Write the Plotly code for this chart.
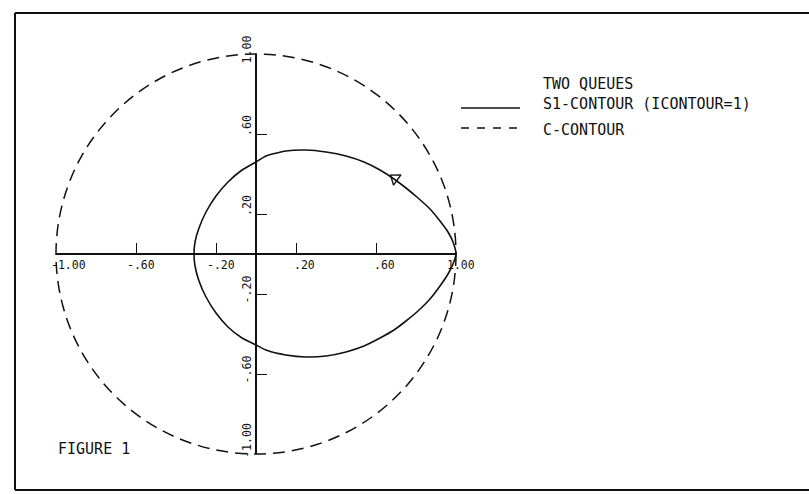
import plotly.graph_objects as go

# ---- data -------------------------------------------------------------
# S1-contour, traced counter-clockwise starting from the point (1, 0)
s1_x = [1.00, 0.985, 0.96, 0.92, 0.87, 0.81, 0.75, 0.69, 0.62, 0.54, 0.45, 0.35,
        0.25, 0.15, 0.05, 0.00, -0.07, -0.14, -0.20, -0.25, -0.285, -0.305, -0.31,
        -0.305, -0.285, -0.25, -0.20, -0.14, -0.07, 0.00, 0.05, 0.15, 0.25, 0.35,
        0.45, 0.54, 0.62, 0.69, 0.75, 0.81, 0.87, 0.92, 0.96, 0.985, 1.00]
s1_y = [0.00, 0.06, 0.11, 0.165, 0.225, 0.28, 0.33, 0.375, 0.42, 0.46, 0.49, 0.51,
        0.52, 0.515, 0.49, 0.46, 0.42, 0.36, 0.29, 0.21, 0.13, 0.06, 0.00,
        -0.06, -0.135, -0.215, -0.295, -0.365, -0.42, -0.455, -0.48, -0.505, -0.515,
        -0.51, -0.49, -0.46, -0.42, -0.38, -0.335, -0.285, -0.225, -0.16, -0.10,
        -0.05, 0.00]

# direction arrow on the S1-contour
arrow_x = [0.695]
arrow_y = [0.378]

# C-contour: the unit circle
c_radius = 1.0

# axis ticks
x_ticks = [-1.0, -0.6, -0.2, 0.2, 0.6, 1.0]
x_tick_text = ["-1.00", "-.60", "-.20", ".20", ".60", "1.00"]
y_ticks = [-1.0, -0.6, -0.2, 0.2, 0.6, 1.0]
y_tick_text = ["-1.00", "-.60", "-.20", ".20", ".60", "1.00"]

legend_title = "TWO QUEUES"
legend_names = ["S1-CONTOUR (ICONTOUR=1)", "C-CONTOUR"]
figure_label = "FIGURE 1"

# ---- layout helpers ---------------------------------------------------
W, H = 809, 494
PL, PT, PW, PH = 36, 34, 440, 440          # plotting area in pixels
INK = "#111111"
FONT = "DejaVu Sans Mono"
TICK_FS = 11.5
CW = 0.602 * TICK_FS                         # monospace advance width


def px(xp):
    return (xp - PL) / PW


def py(yp):
    return (PT + PH - yp) / PH


def dot_offset(label):
    # distance from the start of the label to the centre of its decimal point
    return label.index(".") * CW + CW / 2


fig = go.Figure()

fig.add_trace(go.Scatter(
    x=s1_x, y=s1_y, mode="lines",
    line=dict(color=INK, width=1.6, shape="spline", smoothing=0.6),
    hoverinfo="skip", showlegend=False))

fig.add_trace(go.Scatter(
    x=arrow_x, y=arrow_y, mode="markers",
    marker=dict(symbol="triangle-left-open", size=11, angle=36,
                color=INK, line=dict(color=INK, width=1.4)),
    hoverinfo="skip", showlegend=False, cliponaxis=False))

# empty trace so the crossing axes get a subplot of their own
fig.add_trace(go.Scatter(x=[], y=[], xaxis="x2", yaxis="y2",
                         showlegend=False, hoverinfo="skip"))

shapes = [
    dict(type="circle", xref="x", yref="y",
         x0=-c_radius, x1=c_radius, y0=-c_radius, y1=c_radius,
         line=dict(color=INK, width=1.5, dash="12px,7px")),
    # page frame
    dict(type="line", xref="paper", yref="paper",
         x0=px(15), x1=px(15), y0=py(13), y1=py(490),
         line=dict(color=INK, width=2)),
    dict(type="line", xref="paper", yref="paper",
         x0=px(15), x1=px(815), y0=py(13), y1=py(13),
         line=dict(color=INK, width=2)),
    dict(type="line", xref="paper", yref="paper",
         x0=px(15), x1=px(815), y0=py(490), y1=py(490),
         line=dict(color=INK, width=2)),
    # legend samples
    dict(type="line", xref="paper", yref="paper",
         x0=px(461), x1=px(520), y0=py(108), y1=py(108),
         line=dict(color=INK, width=1.6)),
    dict(type="line", xref="paper", yref="paper",
         x0=px(461), x1=px(520), y0=py(128), y1=py(128),
         line=dict(color=INK, width=1.5, dash="8px,8px")),
]

annotations = []
for v, t in zip(x_ticks, x_tick_text):
    shift = -dot_offset(t)
    if v == x_ticks[0]:
        shift += 11
    annotations.append(dict(
        x=v, y=py(256.5), xref="x", yref="paper", text=t, showarrow=False,
        xanchor="left", yanchor="top", xshift=shift, borderpad=0,
        font=dict(family=FONT, size=TICK_FS, color=INK)))

for v, t in zip(y_ticks, y_tick_text):
    shift = -dot_offset(t)
    if v == y_ticks[0]:
        shift += 12
    annotations.append(dict(
        x=px(255), y=v, xref="paper", yref="y", text=t, showarrow=False,
        textangle=-90, xanchor="right", yanchor="bottom", yshift=shift,
        borderpad=0, font=dict(family=FONT, size=TICK_FS, color=INK)))

legend_font = dict(family=FONT, size=15, color=INK)
for txt, yp in [(legend_title, 84), (legend_names[0], 104), (legend_names[1], 130)]:
    annotations.append(dict(
        x=px(542), y=py(yp), xref="paper", yref="paper", text=txt,
        showarrow=False, xanchor="left", yanchor="middle", borderpad=0,
        font=legend_font))

annotations.append(dict(
    x=px(57), y=py(449), xref="paper", yref="paper", text=figure_label,
    showarrow=False, xanchor="left", yanchor="middle", borderpad=0,
    font=legend_font))

hidden = dict(visible=False, range=[-1.1, 1.1], fixedrange=True)
cross_axis = dict(range=[-1.0, 1.0], showline=True, linecolor=INK, linewidth=1.6,
                  ticks="inside", ticklen=10, tickwidth=1.4, tickcolor=INK,
                  tickvals=x_ticks, showticklabels=False, showgrid=False,
                  zeroline=False, fixedrange=True, anchor="free", position=0.5)

fig.update_layout(
    width=W, height=H,
    margin=dict(l=PL, r=W - PL - PW, t=PT, b=H - PT - PH),
    paper_bgcolor="white", plot_bgcolor="rgba(0,0,0,0)",
    xaxis=hidden, yaxis=hidden,
    xaxis2=dict(cross_axis, domain=[px(56), px(456)], side="bottom"),
    yaxis2=dict(cross_axis, tickvals=y_ticks, domain=[py(454), py(54)],
                side="left"),
    shapes=shapes, annotations=annotations, showlegend=False)

fig.write_html("out.html")
